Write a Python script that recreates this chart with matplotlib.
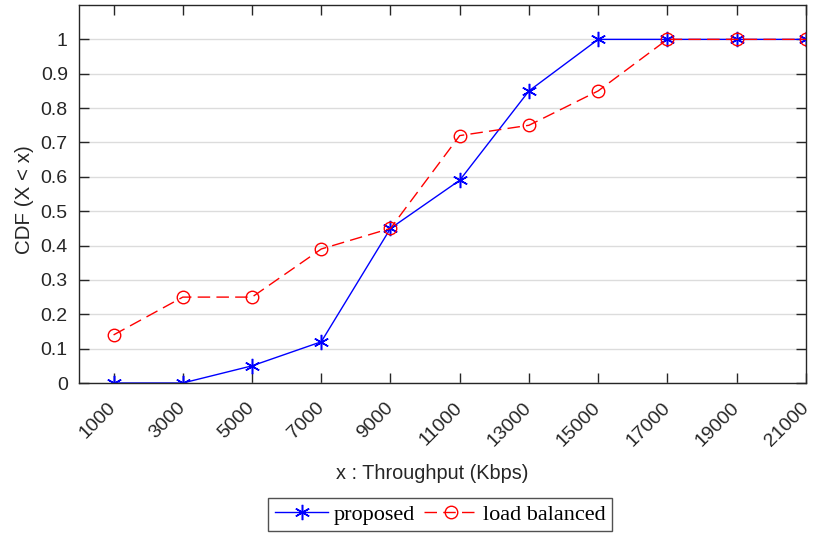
import numpy as np
import matplotlib.pyplot as plt

# throughput bins (Kbps) and CDF values
throughput = [1000, 3000, 5000, 7000, 9000, 11000, 13000, 15000, 17000, 19000, 21000]
cdf_proposed = [0, 0, 0.05, 0.12, 0.45, 0.59, 0.85, 1, 1, 1, 1]
cdf_balanced = [0.14, 0.25, 0.25, 0.39, 0.45, 0.72, 0.75, 0.85, 1, 1, 1]
yticks = [0, 0.1, 0.2, 0.3, 0.4, 0.5, 0.6, 0.7, 0.8, 0.9, 1]

plt.rcParams['font.family'] = ['Liberation Sans', 'DejaVu Sans']
DARK = '#262626'

fig = plt.figure(figsize=(8.14, 5.33), dpi=100)
ax = fig.add_axes([0.097, 0.2814, 0.893, 0.7092])

# matlab-ish asterisk: 3 strokes, one vertical
ax.plot(throughput, cdf_proposed, color='blue', linestyle='-', linewidth=1,
        marker=(6, 2, 0), markersize=11, markeredgewidth=1.1, label='proposed')
ax.plot(throughput, cdf_balanced, color='red', linestyle=(0, (9, 4.5)), linewidth=1,
        marker='o', markersize=9, markerfacecolor='none', markeredgewidth=1,
        label='load balanced')

ax.set_xlim(0, 21000)
ax.set_ylim(0, 1.1)
ax.set_xticks(throughput)
ax.set_xticklabels([str(t) for t in throughput], rotation=45, ha='right',
                   va='center', rotation_mode='anchor')
ax.set_yticks(yticks)
ax.set_yticklabels(['0'] + [f'{v:g}' for v in yticks[1:]])
ax.yaxis.grid(True, color='#dcdcdc', linewidth=1)
ax.set_axisbelow(True)

ax.tick_params(direction='in', length=7, width=1, colors=DARK, labelsize=14,
               top=True, right=True)
ax.tick_params(axis='x', pad=16)
ax.tick_params(axis='y', pad=8)
for s in ax.spines.values():
    s.set_color(DARK)
    s.set_linewidth(1)

ax.set_xlabel('x : Throughput (Kbps)', fontsize=14.3, color=DARK, labelpad=10)
ax.set_ylabel('CDF (X < x)', fontsize=14.8, color=DARK, labelpad=5)
ax.xaxis.label.set_x(0.486)
ax.yaxis.label.set_y(0.484)

leg = fig.legend(loc='center', bbox_to_anchor=(0.541, 0.0347), ncol=2,
                 prop={'family': 'Liberation Serif', 'size': 16},
                 frameon=True, fancybox=False, edgecolor=DARK,
                 handlelength=2.4, handletextpad=0.25, columnspacing=0.4,
                 borderpad=0.3, borderaxespad=0)
leg.get_frame().set_linewidth(1)

fig.savefig('out.png', dpi=100)
